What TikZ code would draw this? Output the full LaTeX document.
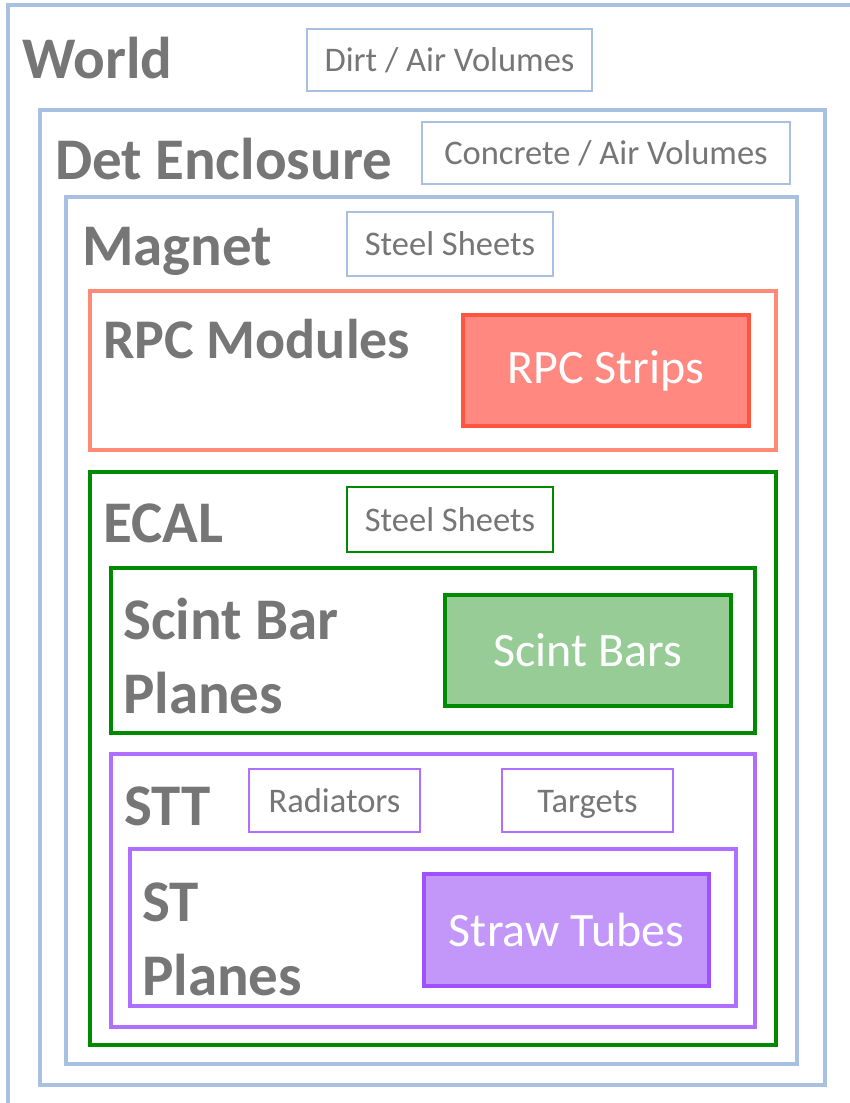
\documentclass[tikz,border=0pt]{standalone}
\usepackage{fontspec}
\setmainfont{Carlito}
\definecolor{wblue}{RGB}{168,192,226}
\definecolor{tgray}{RGB}{118,118,118}
\definecolor{salmon}{RGB}{255,138,118}
\definecolor{rpcfill}{RGB}{255,136,128}
\definecolor{rpcline}{RGB}{255,85,64}
\definecolor{dgreen}{RGB}{0,138,0}
\definecolor{gfill}{RGB}{151,204,151}
\definecolor{purp}{RGB}{176,112,255}
\definecolor{pfill}{RGB}{195,151,250}
\definecolor{pline}{RGB}{160,80,255}
\newcommand{\tagtxt}[1]{\raisebox{-4pt}[\height][\depth]{\strut #1}}
\begin{document}
\begin{tikzpicture}[x=1pt,y=-1pt,
  cont/.style={draw,line width=4pt,inner sep=0pt,outer sep=0pt,rectangle},
  tag/.style={draw,line width=2pt,inner sep=0pt,outer sep=0pt,rectangle,
    text=tgray,font=\fontsize{34.5}{38}\selectfont},
  leaf/.style={draw,line width=4pt,inner sep=0pt,outer sep=0pt,rectangle,
    text=white,font=\fontsize{48}{52}\selectfont},
  lbl/.style={anchor=base west,inner sep=0pt,text=tgray,align=left,
    font=\bfseries\fontsize{59}{74}\selectfont}]
\useasboundingbox (0,0) rectangle (850,1103);
\clip (0,0) rectangle (850,1103);
\fill[white] (0,0) rectangle (850,1103);
% World
\node[cont,draw=wblue,minimum width=872pt,minimum height=1125pt] (world) at (444,567.5) {};
\node[lbl] (worldl) at (22,78) {World};
\node[tag,draw=wblue,minimum width=285pt,minimum height=62pt] (dirt) at (449.5,60) {\tagtxt{Dirt / Air Volumes}};
% Det Enclosure
\node[cont,draw=wblue,minimum width=785pt,minimum height=975pt] (det) at (432.5,597.5) {};
\node[lbl] (detl) at (55,179) {Det Enclosure};
\node[tag,draw=wblue,minimum width=368pt,minimum height=62pt] (conc) at (606,153) {\tagtxt{Concrete / Air Volumes}};
% Magnet
\node[cont,draw=wblue,minimum width=731pt,minimum height=867pt] (mag) at (431.5,630.5) {};
\node[lbl] (magl) at (82,265) {Magnet};
\node[tag,draw=wblue,minimum width=206pt,minimum height=64pt] (msteel) at (450,244) {\tagtxt{Steel Sheets}};
% RPC
\node[cont,draw=salmon,minimum width=686pt,minimum height=159pt] (rpcm) at (433,370.5) {};
\node[lbl,font=\bfseries\fontsize{56}{60}\selectfont] (rpcml) at (103,358) {RPC Modules};
\node[leaf,draw=rpcline,fill=rpcfill,minimum width=286pt,minimum height=111pt] (rpcs) at (606,370.5) {RPC Strips};
% ECAL
\node[cont,draw=dgreen,minimum width=686pt,minimum height=573pt] (ecal) at (433,758.5) {};
\node[lbl] (ecall) at (103,542) {ECAL};
\node[tag,draw=dgreen,minimum width=206pt,minimum height=65pt] (esteel) at (450,519.5) {\tagtxt{Steel Sheets}};
% Scint bar planes
\node[cont,draw=dgreen,minimum width=644pt,minimum height=165pt] (sbp) at (433,650.5) {};
\node[lbl] (sbpl) at (123,713) {Scint Bar\\Planes};
\node[leaf,draw=dgreen,fill=gfill,minimum width=286pt,minimum height=111pt] (sb) at (588,650.5) {Scint Bars};
% STT
\node[cont,draw=purp,minimum width=644pt,minimum height=273pt] (stt) at (433,890.5) {};
\node[lbl] (sttl) at (124,825) {STT};
\node[tag,draw=purp,minimum width=171pt,minimum height=63pt] (rad) at (334.5,800.5) {\tagtxt{Radiators}};
\node[tag,draw=purp,minimum width=171pt,minimum height=63pt] (targ) at (587.5,800.5) {\tagtxt{Targets}};
% ST planes
\node[cont,draw=purp,minimum width=606pt,minimum height=157pt] (stp) at (433,927.5) {};
\node[lbl] (stpl) at (142,995) {ST\\Planes};
\node[leaf,draw=pline,fill=pfill,minimum width=285pt,minimum height=112pt] (straw) at (566.5,930) {Straw Tubes};
\end{tikzpicture}
\end{document}
